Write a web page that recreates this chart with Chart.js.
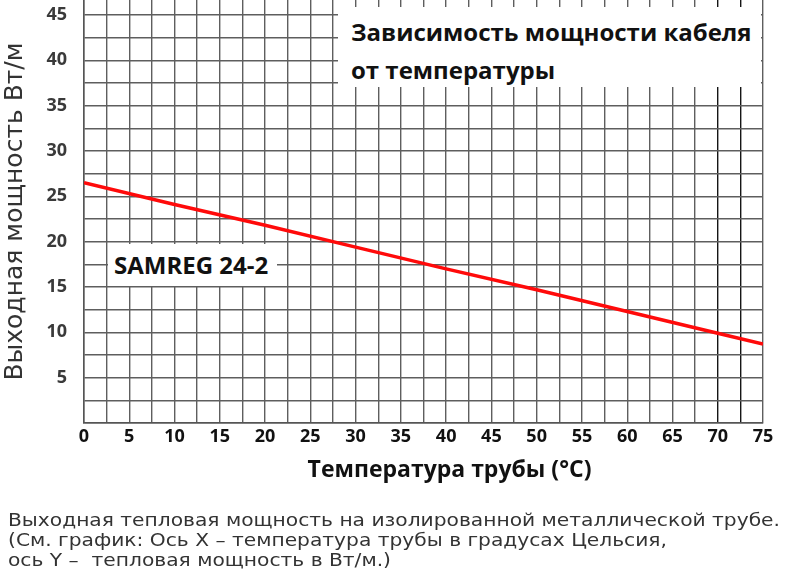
<!DOCTYPE html>
<html><head><meta charset="utf-8">
<script src="https://cdn.jsdelivr.net/npm/chart.js@4"></script>
<style>
html,body{margin:0;padding:0;background:#fff;width:800px;height:577px;overflow:hidden;}
#wrap{position:relative;width:800px;height:577px;}
#c{position:absolute;left:0;top:0;}
.box{position:absolute;background:#fff;font-family:"Open Sans",sans-serif;font-weight:700;color:#111;white-space:nowrap;}
#tbox{left:338px;top:7px;width:423px;height:80px;font-size:24px;line-height:38px;padding:6px 0 0 13px;box-sizing:border-box;}
#sbox{left:108px;top:244px;width:169px;height:42px;font-size:24px;line-height:42px;padding-left:6px;box-sizing:border-box;}
#cap{position:absolute;left:8px;top:510px;font-family:"DejaVu Sans",sans-serif;font-size:17px;line-height:20px;color:#333;white-space:pre;transform-origin:0 0;}
</style></head>
<body><div id="wrap">
<canvas id="c" width="800" height="577"></canvas>
<div class="box" id="tbox">Зависимость мощности кабеля<br>от температуры</div>
<div class="box" id="sbox">SAMREG 24-2</div>
<div id="cap"><span id="l1">Выходная тепловая мощность на изолированной металлической трубе.</span>
(См. график: Ось X – температура трубы в градусах Цельсия,
ось Y –  тепловая мощность в Вт/м.)</div>
</div>
<script>
const temps = [0, 10, 20, 30, 40, 50, 60, 70, 75];
const powers = [26.5, 24.1, 21.8, 19.4, 17.0, 14.7, 12.3, 9.9, 8.7];
const xTickLabels = [0,5,10,15,20,25,30,35,40,45,50,55,60,65,70,75];
const yTickLabels = [5,10,15,20,25,30,35,40,45];
const seriesName = 'SAMREG 24-2';
const xTitle = 'Температура трубы (°C)';
const yTitle = 'Выходная мощность Вт/м';
const darkX = [70, 72.5];

const near = (arr,v)=>arr.some(a=>Math.abs(a-v)<1e-6);
const pts = temps.map((t,i)=>({x:t,y:powers[i]}));
new Chart(document.getElementById('c'), {
  type:'line',
  data:{datasets:[{label:seriesName,data:pts,borderColor:'#ff0a0a',borderWidth:3.5,pointRadius:0,tension:0,fill:false}]},
  options:{
    responsive:false,animation:false,
    layout:{padding:{top:0,right:37,left:0,bottom:0}},
    plugins:{legend:{display:false},tooltip:{enabled:false}},
    scales:{
      x:{type:'linear',min:0,max:75,
        afterFit:s=>{
          s.height=154;s.paddingLeft=0;s.paddingRight=0;
          if(!s._shifted){
            const orig=s.drawTitle.bind(s);
            s.drawTitle=function(){const c=this.ctx;c.save();c.translate(26,0);orig();c.restore();};
            s._shifted=true;
          }
        },
        ticks:{stepSize:2.5,autoSkip:false,maxRotation:0,padding:3,color:'#111',
          font:{family:'Open Sans',weight:'bold',size:18},
          callback:v=>near(xTickLabels,v)?String(Math.round(v)):''},
        grid:{drawTicks:false,lineWidth:1.4,
          color:c=>(c.tick&&near(darkX,c.tick.value))?'#151515':'#5e5e5e'},
        border:{color:'#555',width:1.5},
        title:{display:true,text:xTitle,color:'#111',font:{family:'Open Sans',weight:'bold',size:23},padding:{top:0,bottom:93}}
      },
      y:{type:'linear',min:0,max:46.65,
        afterFit:s=>{s.width=84;s.paddingTop=0;s.paddingBottom=0;},
        ticks:{stepSize:2.5,includeBounds:false,autoSkip:false,padding:17,color:'#3a3a3a',
          font:{family:'Open Sans',weight:'bold',size:18},
          callback:v=>near(yTickLabels,v)?String(Math.round(v)):''},
        grid:{drawTicks:false,lineWidth:1.4,color:'#5e5e5e'},
        border:{color:'#555',width:1.5},
        title:{display:true,text:yTitle,color:'#333',font:{family:'DejaVu Sans',size:25},padding:{top:0,bottom:0}}
      }
    }
  }
});
const cap=document.getElementById('cap');
const w=document.getElementById('l1').getBoundingClientRect().width;
cap.style.transform='scaleX('+(772/w)+')';
</script>
</body></html>
